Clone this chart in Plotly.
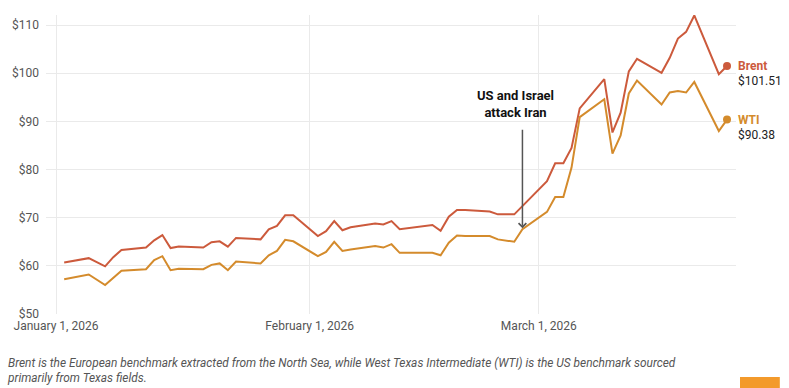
import plotly.graph_objects as go

# ---- data ----
dates = [
    "2026-01-02", "2026-01-05", "2026-01-07", "2026-01-08", "2026-01-09",
    "2026-01-12", "2026-01-13", "2026-01-14", "2026-01-15", "2026-01-16",
    "2026-01-19", "2026-01-20", "2026-01-21", "2026-01-22", "2026-01-23",
    "2026-01-26", "2026-01-27", "2026-01-28", "2026-01-29", "2026-01-30",
    "2026-02-02", "2026-02-03", "2026-02-04", "2026-02-05", "2026-02-06",
    "2026-02-09", "2026-02-10", "2026-02-11", "2026-02-12", "2026-02-13",
    "2026-02-16", "2026-02-17", "2026-02-18", "2026-02-19", "2026-02-20",
    "2026-02-23", "2026-02-24", "2026-02-26", "2026-02-27",
    "2026-03-02", "2026-03-03", "2026-03-04", "2026-03-05", "2026-03-06",
    "2026-03-09", "2026-03-10", "2026-03-11", "2026-03-12", "2026-03-13",
    "2026-03-16", "2026-03-17", "2026-03-18", "2026-03-19", "2026-03-20",
    "2026-03-23", "2026-03-24",
]
brent = [
    60.7, 61.6, 59.9, 61.8, 63.3,
    63.8, 65.3, 66.4, 63.7, 64.0,
    63.8, 64.9, 65.1, 64.0, 65.8,
    65.5, 67.6, 68.3, 70.5, 70.5,
    66.2, 67.2, 69.3, 67.4, 68.0,
    68.8, 68.6, 69.3, 67.6, 67.8,
    68.5, 67.3, 70.2, 71.6, 71.6,
    71.3, 70.7, 70.7, 72.4,
    77.6, 81.3, 81.3, 84.5, 92.7,
    98.8, 87.7, 91.8, 100.4, 103.0,
    100.1, 103.2, 107.2, 108.6, 112.0,
    99.8, 101.51,
]
wti = [
    57.2, 58.2, 56.0, 57.6, 59.0,
    59.3, 61.2, 62.0, 59.1, 59.4,
    59.3, 60.2, 60.5, 59.1, 60.9,
    60.5, 62.2, 63.1, 65.4, 65.1,
    62.0, 62.9, 65.0, 63.1, 63.4,
    64.1, 63.8, 64.5, 62.7, 62.7,
    62.7, 62.2, 64.8, 66.3, 66.2,
    66.2, 65.5, 65.0, 67.6,
    71.2, 74.3, 74.3, 80.4, 90.9,
    94.6, 83.3, 87.1, 95.8, 98.5,
    93.5, 96.0, 96.3, 96.0, 98.2,
    88.0, 90.38,
]
series_names = ["Brent", "WTI"]
x_tick_vals = ["2026-01-01", "2026-02-01", "2026-03-01"]
x_tick_text = ["January 1, 2026", "February 1, 2026", "March 1, 2026"]
y_tick_vals = [50, 60, 70, 80, 90, 100, 110]
y_tick_text = ["$50", "$60", "$70", "$80", "$90", "$100", "$110"]
event_date = "2026-02-27"
event_label = "US and Israel<br>attack Iran"
footnote = ("Brent is the European benchmark extracted from the North Sea, while West Texas "
            "Intermediate (WTI) is the US benchmark sourced<br>primarily from Texas fields.")

BRENT_C = "#cc5a3c"
WTI_C = "#d48b2c"
FONT = "Roboto"

fig = go.Figure()
for name, vals, col in [(series_names[0], brent, BRENT_C), (series_names[1], wti, WTI_C)]:
    fig.add_trace(go.Scatter(x=dates, y=vals, mode="lines", name=name,
                             line=dict(color=col, width=2), hoverinfo="skip"))
    fig.add_trace(go.Scatter(x=[dates[-1]], y=[vals[-1]], mode="markers",
                             marker=dict(color=col, size=8), hoverinfo="skip"))
    fig.add_annotation(x=dates[-1], y=vals[-1], text=f"<b>{name}</b>", showarrow=False,
                       xanchor="left", yanchor="middle", xshift=9,
                       font=dict(family=FONT, size=12, color=col))
    fig.add_annotation(x=dates[-1], y=vals[-1], text=f"${vals[-1]:.2f}", showarrow=False,
                       xanchor="left", yanchor="middle", xshift=9, yshift=-15,
                       font=dict(family=FONT, size=12, color="#222222"))

# event arrow + label
ev_idx = dates.index(event_date)
fig.add_annotation(x=event_date, y=wti[ev_idx], ax=0, ay=-101, text="",
                   showarrow=True, arrowhead=4, arrowsize=1, arrowwidth=1.5,
                   arrowcolor="#555555", standoff=1)
fig.add_annotation(x=event_date, y=0.7007, yref="paper", text=f"<b>{event_label}</b>",
                   showarrow=False, xanchor="center", yanchor="middle", xshift=-7,
                   font=dict(family=FONT, size=13, color="#111111"))

# footnote
fig.add_annotation(x=-0.0595, y=-0.188, xref="paper", yref="paper",
                   text=f"<i>{footnote}</i>", showarrow=False, align="left",
                   xanchor="left", yanchor="middle",
                   font=dict(family=FONT, size=11.9, color="#555555"))

# orange corner button
fig.add_shape(type="rect", xref="paper", yref="paper", x0=1.0058, x1=1.0635,
              y0=-0.27, y1=-0.2107, fillcolor="#f39a2b", line=dict(width=0), layer="above")

fig.update_layout(
    width=789, height=388,
    margin=dict(l=43, r=53, t=15, b=74),
    paper_bgcolor="white", plot_bgcolor="white",
    showlegend=False,
    font=dict(family=FONT, size=12, color="#555555"),
    xaxis=dict(type="date", range=["2025-12-30 18:40", "2026-03-25 02:20"],
               tickvals=x_tick_vals, ticktext=x_tick_text, showgrid=True,
               gridcolor="#eaeaea", gridwidth=1, zeroline=False, showline=False,
               ticks="", ticklabelstandoff=3,
               tickfont=dict(family=FONT, size=12, color="#555555")),
    yaxis=dict(range=[50, 112.1], tickvals=y_tick_vals, ticktext=y_tick_text,
               showgrid=True, gridcolor="#eaeaea", gridwidth=1, zeroline=False,
               showline=False, ticks="", ticklabelstandoff=6,
               tickfont=dict(family=FONT, size=12, color="#555555")),
)

fig.write_html("out.html", config={"displayModeBar": False},
               post_script="document.body.style.margin='0px';")
